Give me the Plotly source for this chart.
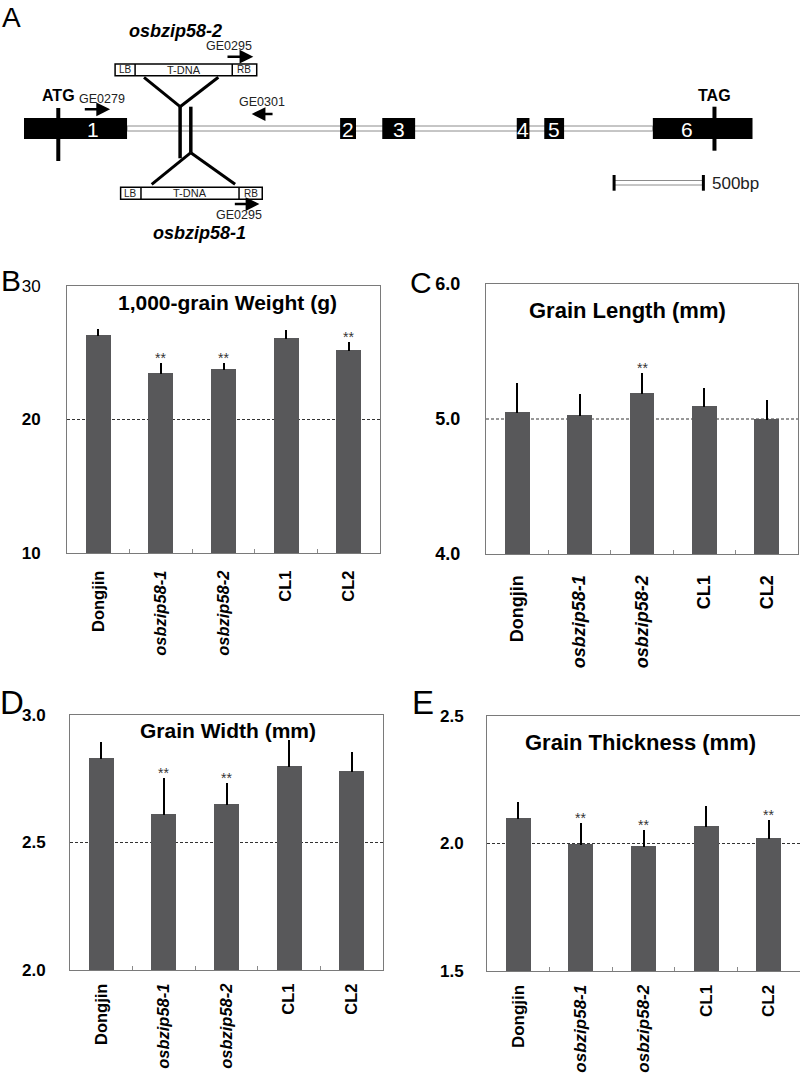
import plotly.graph_objects as go

# ---------------- data ----------------
lines = ["Dongjin", "osbzip58-1", "osbzip58-2", "CL1", "CL2"]
line_labels = ["<b>Dongjin</b>", "<b><i>osbzip58-1</i></b>", "<b><i>osbzip58-2</i></b>", "<b>CL1</b>", "<b>CL2</b>"]

weight_mean = [26.3, 23.5, 23.8, 26.1, 25.2]
weight_err = [0.37, 0.66, 0.38, 0.55, 0.5]
weight_sig = [False, True, True, False, True]

length_mean = [5.05, 5.03, 5.19, 5.10, 5.00]
length_err = [0.21, 0.15, 0.14, 0.12, 0.13]
length_sig = [False, False, True, False, False]

width_mean = [2.83, 2.61, 2.65, 2.80, 2.78]
width_err = [0.06, 0.14, 0.08, 0.10, 0.07]
width_sig = [False, True, True, False, False]

thick_mean = [2.10, 2.00, 1.99, 2.07, 2.02]
thick_err = [0.06, 0.075, 0.06, 0.075, 0.07]
thick_sig = [False, True, True, False, True]

weight_ticks = [10, 20, 30]
weight_ticktext = ["<b>10</b>", "<b>20</b>", "30"]
length_ticks = [4.0, 5.0, 6.0]
length_ticktext = ["<b>4.0</b>", "<b>5.0</b>", "<b>6.0</b>"]
width_ticks = [2.0, 2.5, 3.0]
width_ticktext = ["<b>2.0</b>", "<b>2.5</b>", "<b>3.0</b>"]
thick_ticks = [1.5, 2.0, 2.5]
thick_ticktext = ["<b>1.5</b>", "<b>2.0</b>", "<b>2.5</b>"]

# gene structure (bp from gene start)
exon_start = [0, 1770, 2006, 2759, 2913, 3521]
exon_end = [577, 1859, 2190, 2830, 3024, 4079]
exon_names = ["1", "2", "3", "4", "5", "6"]
exon_label_pos = [385, 1814, 2098, 2794, 2968, 3711]
atg_pos = 192
tag_pos = 3866
insert_58_2 = 874
insert_58_1 = 934
primer_ge0279 = [332, 482]
primer_ge0301 = [1400, 1275]
scale_bar = [3304, 3804]
scale_label = "500bp"

FONT = "Liberation Sans, Arial, sans-serif"
BAR = "#58585a"
W, H = 800, 1075

fig = go.Figure()

def px2x(p):
    return p / W

def px2y(p):
    return 1 - p / H

panels = [
    # means, errs, sig, ticks, ticktext, title, box(px l,r,t,b), title pos, tickfont, catfont, titlefont, ystand, xstand
    (weight_mean, weight_err, weight_sig, weight_ticks, weight_ticktext, "1,000-grain Weight (g)",
     (67, 380, 286, 553), (227, 302), 17, 16.5, 21, 22, 10),
    (length_mean, length_err, length_sig, length_ticks, length_ticktext, "Grain Length (mm)",
     (486, 798, 284, 554), (627, 310), 18, 18, 22, 21, 13),
    (width_mean, width_err, width_sig, width_ticks, width_ticktext, "Grain Width (mm)",
     (70, 383, 715, 970), (228, 730), 17, 16.5, 21, 20, 6),
    (thick_mean, thick_err, thick_sig, thick_ticks, thick_ticktext, "Grain Thickness (mm)",
     (487, 801, 716, 971), (640, 742), 17, 17, 22, 19, 6),
]

for i, (m, e, sig, tv, tt, title, box, tpos, tf, cf, tif, ystand, xstand) in enumerate(panels):
    k = "" if i == 0 else str(i + 1)
    xa, ya = "x" + k, "y" + k
    fig.add_trace(go.Bar(
        x=list(range(len(lines))), y=m, width=0.4, marker=dict(color=BAR, line=dict(width=0)),
        error_y=dict(type="data", array=e, symmetric=False, arrayminus=[0] * len(e),
                     color="black", thickness=2, width=1),
        xaxis=xa, yaxis=ya, showlegend=False, hoverinfo="skip",
    ))
    l, r, t, b = box
    fig.layout["xaxis" + k] = dict(
        domain=[px2x(l), min(px2x(r), 1.0)], anchor=ya, range=[-0.5, 4.5],
        tickmode="array", tickvals=list(range(len(lines))), ticktext=line_labels,
        tickangle=-90, ticks="", ticklabelstandoff=xstand, automargin=False,
        tickfont=dict(family=FONT, size=cf, color="black"),
        showline=True, mirror=True, linecolor="#7a7a7a", linewidth=1,
        showgrid=False, zeroline=False, fixedrange=True,
        minor=dict(tickmode="array", tickvals=[0.5, 1.5, 2.5, 3.5], ticks="inside",
                   ticklen=4, tickcolor="#8a8a8a", tickwidth=1, showgrid=False),
    )
    fig.layout["yaxis" + k] = dict(
        domain=[px2y(b), px2y(t)], anchor=xa, range=[tv[0], tv[-1]],
        tickmode="array", tickvals=tv, ticktext=tt, ticks="", ticklabelstandoff=ystand,
        automargin=False,
        tickfont=dict(family=FONT, size=tf, color="black"),
        showline=True, mirror=True, linecolor="#7a7a7a", linewidth=1,
        showgrid=False, zeroline=False, fixedrange=True,
    )
    fig.add_shape(type="line", xref=xa + " domain", yref=ya, x0=0, x1=1, y0=tv[1], y1=tv[1],
                  line=dict(color="#333333", width=1, dash="3px,2px"), layer="below")
    for j in range(len(lines)):
        if sig[j]:
            fig.add_annotation(x=j, y=m[j] + e[j], xref=xa, yref=ya, text="**", showarrow=False,
                               yanchor="bottom", yshift=-4,
                               font=dict(family=FONT, size=14, color="#333333"))
    fig.add_annotation(x=px2x(tpos[0]), y=px2y(tpos[1]), xref="paper", yref="paper",
                       text="<b>" + title + "</b>", showarrow=False, xanchor="center", yanchor="middle",
                       font=dict(family=FONT, size=tif, color="black"))

# panel letters
for letter, (lx, ly, sz) in {"A": (11, 17, 28), "B": (11, 280, 30), "C": (421, 282, 30),
                             "D": (12, 702, 33), "E": (423, 702, 33)}.items():
    fig.add_annotation(x=px2x(lx), y=px2y(ly), xref="paper", yref="paper", text=letter,
                       showarrow=False, xanchor="center", yanchor="middle",
                       font=dict(family=FONT, size=sz, color="black"))

# ---------------- gene diagram (panel A) ----------------
S = 500 / 89.3  # bp per pixel
fig.layout["xaxis5"] = dict(domain=[0, 1], anchor="y5", range=[-24 * S, (W - 24) * S],
                            visible=False, fixedrange=True, automargin=False)
fig.layout["yaxis5"] = dict(domain=[px2y(245), 1], anchor="x5", range=[245, 0],
                            visible=False, fixedrange=True, automargin=False)
fig.add_trace(go.Scatter(x=[0], y=[0], xaxis="x5", yaxis="y5", mode="markers",
                         marker=dict(opacity=0), showlegend=False, hoverinfo="skip"))

def seg(x0, y0, x1, y1, w=3, c="black"):
    fig.add_shape(type="line", xref="x5", yref="y5", x0=x0, y0=y0, x1=x1, y1=y1,
                  line=dict(color=c, width=w))

def txt(x, y, s, size, bold=False, italic=False, color="black", xanchor="center"):
    if italic:
        s = "<i>" + s + "</i>"
    if bold:
        s = "<b>" + s + "</b>"
    fig.add_annotation(x=x, y=y, xref="x5", yref="y5", text=s, showarrow=False,
                       xanchor=xanchor, yanchor="middle", font=dict(family=FONT, size=size, color=color))

# intron (double line)
fig.add_shape(type="rect", xref="x5", yref="y5", x0=exon_end[0], x1=exon_start[-1], y0=126, y1=131,
              line=dict(color="#8c8c8c", width=1), fillcolor="white")
# insertion vertical bars
seg(insert_58_2, 106.7, insert_58_2, 158.3, 3.5)
seg(insert_58_1, 106.7, insert_58_1, 152.7, 3.5)
# exons
for s0, s1, name, lp in zip(exon_start, exon_end, exon_names, exon_label_pos):
    fig.add_shape(type="rect", xref="x5", yref="y5", x0=s0, x1=s1, y0=118, y1=139,
                  line=dict(width=0), fillcolor="black")
    txt(lp, 129, name, 21, color="white")
# ATG / TAG
seg(atg_pos, 108, atg_pos, 161, 4)
seg(tag_pos, 106.7, tag_pos, 150.7, 4)
txt(atg_pos, 95, "ATG", 16, bold=True)
txt(tag_pos, 95.5, "TAG", 16, bold=True)

# T-DNA boxes
def tdna(x0, x1, d0, d1, y0, y1):
    fig.add_shape(type="rect", xref="x5", yref="y5", x0=x0, x1=x1, y0=y0, y1=y1,
                  line=dict(color="black", width=1.5), fillcolor="white")
    seg(d0, y0, d0, y1, 1.5)
    seg(d1, y0, d1, y1, 1.5)
    ym = (y0 + y1) / 2
    txt((x0 + d0) / 2, ym, "LB", 10, color="#222222")
    txt((d0 + d1) / 2, ym, "T-DNA", 11, color="#222222")
    txt((d1 + x1) / 2, ym, "RB", 10, color="#222222")

tdna(510, 1303, 622, 1166, 64, 75.7)
tdna(541, 1334, 655, 1204, 187.3, 199.3)
# V connectors
seg(672, 77.3, insert_58_2, 106.7)
seg(1088, 77.3, insert_58_2, 106.7)
seg(insert_58_1, 152.7, 715, 184.3)
seg(insert_58_1, 152.7, 1182, 184.3)

# primers (arrows)
def arrow(xs, xe, y):
    fig.add_annotation(x=xe, y=y, ax=xs, ay=y, xref="x5", yref="y5", axref="x5", ayref="y5",
                       text="", showarrow=True, arrowhead=2, arrowsize=1.1, arrowwidth=2.5,
                       arrowcolor="black")

arrow(primer_ge0279[0], primer_ge0279[1], 109.3)
txt(438, 99, "GE0279", 12.5, color="#222222")
arrow(primer_ge0301[0], primer_ge0301[1], 114)
txt(1331, 101.7, "GE0301", 12.5, color="#222222")
arrow(1131, 1284, 56.7)
txt(1148, 46, "GE0295", 12.5, color="#222222")
arrow(1172, 1318, 204)
txt(1206, 215, "GE0295", 12.5, color="#222222")

txt(850, 30.7, "osbzip58-2", 18, bold=True, italic=True)
txt(984, 233, "osbzip58-1", 18, bold=True, italic=True)

# scale bar
fig.add_shape(type="rect", xref="x5", yref="y5", x0=scale_bar[0], x1=scale_bar[1], y0=180.5, y1=185,
              line=dict(color="#8c8c8c", width=1), fillcolor="white")
seg(scale_bar[0], 175, scale_bar[0], 190.7, 3)
seg(scale_bar[1], 175, scale_bar[1], 190.7, 3)
txt(scale_bar[1] + 38, 183, scale_label, 17, color="#222222", xanchor="left")

fig.update_layout(
    width=W, height=H, margin=dict(l=0, r=0, t=0, b=0, pad=0),
    paper_bgcolor="white", plot_bgcolor="white",
    font=dict(family=FONT), bargap=0,
)

fig.write_html("out.html", config={"displayModeBar": False},
               post_script="document.body.style.margin='0px';document.body.style.padding='0px';")
